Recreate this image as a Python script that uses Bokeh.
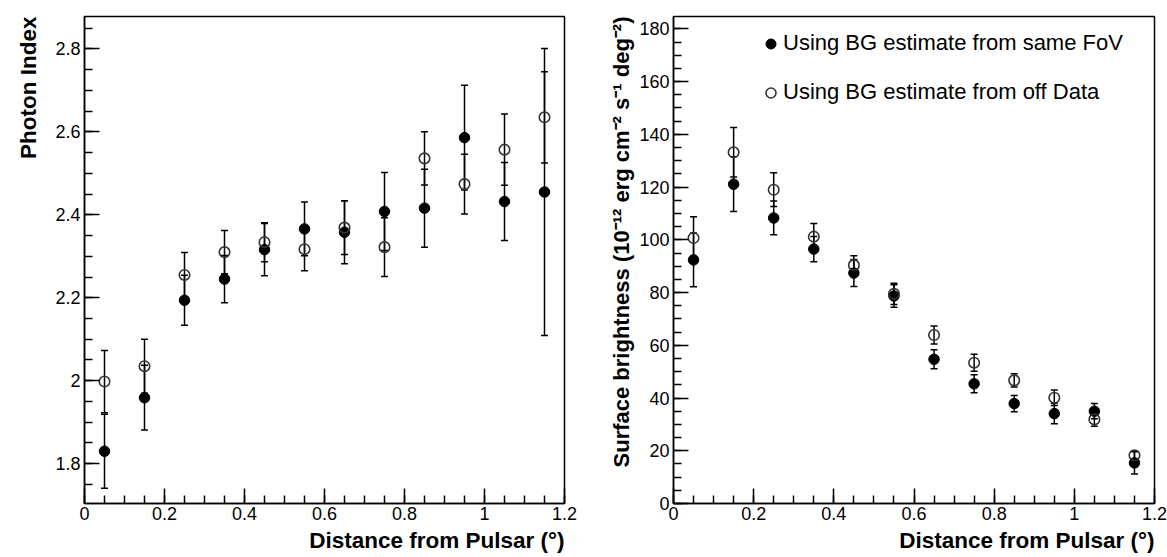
from bokeh.plotting import figure
from bokeh.models import (ColumnDataSource, Whisker, TeeHead, Range1d, FixedTicker,
                          Legend, LegendItem, Title)
from bokeh.layouts import row
from bokeh.embed import file_html
from bokeh.resources import INLINE

# ---------------- data ----------------
distance = [0.05, 0.15, 0.25, 0.35, 0.45, 0.55, 0.65, 0.75, 0.85, 0.95, 1.05, 1.15]

# Photon index (left panel)
index_same = [1.830, 1.959, 2.194, 2.245, 2.316, 2.366, 2.358, 2.408, 2.416, 2.586, 2.432, 2.455]
index_same_err = [0.089, 0.078, 0.060, 0.057, 0.063, 0.065, 0.076, 0.094, 0.094, 0.126, 0.094, 0.346]
index_off = [1.998, 2.035, 2.255, 2.310, 2.334, 2.317, 2.369, 2.322, 2.536, 2.474, 2.557, 2.635]
index_off_err = [0.075, 0.065, 0.054, 0.052, 0.047, 0.052, 0.065, 0.071, 0.064, 0.072, 0.086, 0.110]

# Surface brightness (right panel)
sb_same = [92.4, 121.1, 108.3, 96.5, 87.4, 78.7, 54.7, 45.4, 37.9, 34.1, 35.0, 15.4]
sb_same_err = [10.2, 10.4, 6.4, 4.8, 5.1, 4.3, 3.6, 3.4, 3.1, 3.9, 2.9, 4.2]
sb_off = [100.7, 133.2, 119.0, 101.2, 90.4, 79.5, 63.9, 53.4, 46.7, 40.1, 31.9, 18.3]
sb_off_err = [8.1, 9.4, 6.4, 5.0, 3.6, 4.0, 3.4, 3.2, 2.5, 2.9, 2.6, 1.5]

x_ticks = [0, 0.2, 0.4, 0.6, 0.8, 1, 1.2]
x_tick_labels = ["0", "0.2", "0.4", "0.6", "0.8", "1", "1.2"]
idx_ticks = [1.8, 2, 2.2, 2.4, 2.6, 2.8]
idx_tick_labels = ["1.8", "2", "2.2", "2.4", "2.6", "2.8"]
sb_ticks = [0, 20, 40, 60, 80, 100, 120, 140, 160, 180]
sb_tick_labels = ["0", "20", "40", "60", "80", "100", "120", "140", "160", "180"]

legend_labels = ["Using BG estimate from same FoV", "Using BG estimate from off Data"]
x_title = "Distance from Pulsar (\u00b0)"
left_y_title = "Photon Index"
right_y_title = "Surface brightness (10\u207b\u00b9\u00b2 erg cm\u207b\u00b2 s\u207b\u00b9 deg\u207b\u00b2)"

FONT = "Liberation Sans"


def make_source(y, err):
    return ColumnDataSource(dict(
        x=distance, y=y,
        lo=[a - b for a, b in zip(y, err)],
        hi=[a + b for a, b in zip(y, err)],
    ))


def axis_title(text, standoff, size="22.5px"):
    return Title(text=text, align="right", text_font=FONT, text_font_size=size,
                 text_font_style="bold", text_color="black", standoff=standoff)


def style(p, yticks, ylabels, yminor, ytitle, ystandoff, ysize):
    p.xaxis.ticker = FixedTicker(ticks=x_ticks,
                                 minor_ticks=[round(0.05 * i, 2) for i in range(0, 25)])
    p.xaxis.major_label_overrides = dict(zip(x_ticks, x_tick_labels))
    p.yaxis.ticker = FixedTicker(ticks=yticks, minor_ticks=yminor)
    p.yaxis.major_label_overrides = dict(zip(yticks, ylabels))
    for ax in (p.xaxis[0], p.yaxis[0]):
        ax.major_tick_in = 15
        ax.major_tick_out = 0
        ax.minor_tick_in = 8
        ax.minor_tick_out = 0
        ax.axis_line_width = 1.5
        ax.major_tick_line_width = 1.5
        ax.minor_tick_line_width = 1.5
        ax.axis_line_color = "black"
        ax.major_tick_line_color = "black"
        ax.minor_tick_line_color = "black"
        ax.major_label_text_font = FONT
        ax.major_label_text_font_size = "18px"
        ax.major_label_text_color = "black"
    p.xaxis.major_label_standoff = 3
    p.yaxis.major_label_standoff = 4
    p.xgrid.visible = False
    p.ygrid.visible = False
    p.outline_line_color = "black"
    p.outline_line_width = 1.5
    p.background_fill_color = "white"
    p.border_fill_color = "white"
    # ROOT-style axis titles, aligned to the far end of each axis
    p.add_layout(axis_title(x_title, 6), "below")
    p.add_layout(axis_title(ytitle, ystandoff, ysize), "left")


def draw_series(p, src_same, src_off):
    for src in (src_same, src_off):
        w = Whisker(source=src, base="x", upper="hi", lower="lo", dimension="height",
                    line_color="black", line_width=1.5,
                    upper_head=TeeHead(size=7, line_width=1.5, line_color="black"),
                    lower_head=TeeHead(size=7, line_width=1.5, line_color="black"))
        p.add_layout(w)
    r_same = p.scatter("x", "y", source=src_same, size=10.5, marker="circle",
                       fill_color="black", line_color="black")
    r_off = p.scatter("x", "y", source=src_off, size=10.5, marker="circle",
                      fill_color="white", fill_alpha=0.0, line_color="#333333",
                      line_width=1.6)
    return r_same, r_off


# ---------------- left panel ----------------
p1 = figure(width=590, height=557, output_backend="svg", toolbar_location=None,
            x_range=Range1d(0, 1.2), y_range=Range1d(1.704, 2.878),
            min_border_left=84, min_border_right=26, min_border_top=16, min_border_bottom=54)
style(p1, idx_ticks, idx_tick_labels, [round(1.7 + 0.05 * i, 2) for i in range(0, 24)],
      left_y_title, 23, "22.5px")
draw_series(p1, make_source(index_same, index_same_err), make_source(index_off, index_off_err))

# ---------------- right panel ----------------
p2 = figure(width=577, height=557, output_backend="svg", toolbar_location=None,
            x_range=Range1d(0, 1.2), y_range=Range1d(0, 184.7),
            min_border_left=83, min_border_right=13, min_border_top=16, min_border_bottom=54)
style(p2, sb_ticks, sb_tick_labels, [5 * i for i in range(0, 37)], right_y_title, 5, "22px")
r_same, r_off = draw_series(p2, make_source(sb_same, sb_same_err), make_source(sb_off, sb_off_err))

legend = Legend(items=[LegendItem(label=legend_labels[0], renderers=[r_same]),
                       LegendItem(label=legend_labels[1], renderers=[r_off])],
                location=(85, 398), orientation="vertical")
legend.label_text_font = FONT
legend.label_text_font_size = "22px"
legend.label_text_color = "black"
legend.border_line_color = None
legend.background_fill_alpha = 0.0
legend.glyph_width = 25
legend.glyph_height = 25
legend.label_standoff = 0
legend.label_height = 25
legend.spacing = 23
legend.padding = 10
legend.margin = 0
p2.add_layout(legend)

layout = row(p1, p2)
open("out.html", "w").write(file_html(layout, INLINE))
